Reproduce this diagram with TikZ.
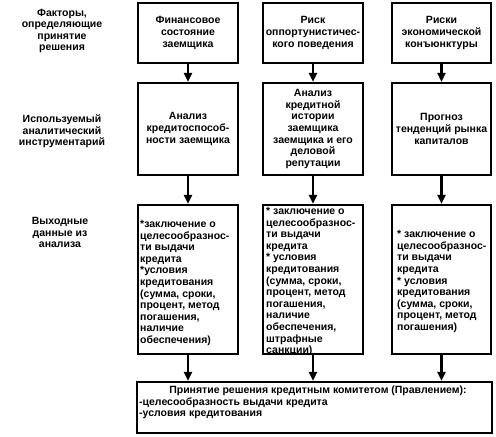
\documentclass[tikz,border=0pt]{standalone}
\usepackage{fontspec}
\setmainfont{Liberation Sans}
\usetikzlibrary{arrows.meta}
\begin{document}
\begin{tikzpicture}[x=1pt,y=-1pt,
  tf/.style={font=\fontsize{10.5}{11.6}\selectfont\bfseries},
  box/.style={draw, line width=2.2pt, minimum width=100pt, inner sep=0pt, align=center, tf},
  txt/.style={inner sep=0pt, tf},
  arr/.style={line width=2.2pt, -{Triangle[width=8pt,length=9pt]}}]
\useasboundingbox[fill=white] (0,0) rectangle (496,437);

% left labels
\node[txt, align=center] (l1) at (62,31) {Факторы,\\определяющие\\принятие\\решения};
\node[txt, align=center] (l2) at (62,131.5) {Используемый\\аналитический\\инструментарий};
\node[txt, align=center] (l3) at (60,232.5) {Выходные\\данные из\\анализа};

% row 1
\node[box, minimum height=60pt] (b11) at (188,33) {Финансовое\\состояние\\заемщика};
\node[box, minimum height=60pt] (b12) at (313,33) {Риск\\оппортунистичес-\\кого поведения};
\node[box, minimum height=60pt, minimum width=99pt] (b13) at (441.5,33) {Риски\\экономической\\конъюнктуры};

% row 2
\node[box, minimum height=92pt] (b21) at (188,129) {Анализ\\кредитоспособ-\\ности заемщика};
\node[box, minimum height=92pt] (b22) at (313,129) {Анализ\\кредитной\\истории\\заемщика\\заемщика и его\\деловой\\репутации};
\node[box, minimum height=92pt, minimum width=99pt] (b23) at (441.5,129) {Прогноз\\тенденций рынка\\капиталов};

% row 3
\node[box, minimum height=149pt] (b31) at (188,279.5) {};
\node[box, minimum height=149pt] (b32) at (313,279.5) {};
\node[box, minimum height=149pt, minimum width=99pt] (b33) at (441.5,279.5) {};

\node[txt, align=left, anchor=north west] (t31) at (140,220) {*заключение о\\целесообразнос-\\ти выдачи\\кредита\\*условия\\кредитования\\(сумма, сроки,\\процент, метод\\погашения,\\наличие\\обеспечения)};
\node[txt, align=left, anchor=north west] (t32) at (266,207) {* заключение о\\целесообразнос-\\ти выдачи\\кредита\\* условия\\кредитования\\(сумма, сроки,\\процент, метод\\погашения,\\наличие\\обеспечения,\\штрафные\\санкции)};
\node[txt, align=left, anchor=west] (t33) at (397,281.5) {* заключение о\\целесообразнос-\\ти выдачи\\кредита\\* условия\\кредитования\\(сумма, сроки,\\процент, метод\\погашения)};

% bottom
\node[box, minimum width=355pt, minimum height=51pt] (bot) at (314.5,407.5) {};
\node[txt] (tb0) at (318,390.5) {Принятие решения кредитным комитетом (Правлением):};
\node[txt, anchor=west] (tb1) at (139,403) {-целесообразность выдачи кредита};
\node[txt, anchor=west] (tb2) at (139,414.5) {-условия кредитования};

% arrows
\draw[arr] (b11) -- (b21);
\draw[arr] (b12) -- (b22);
\draw[arr] (b13) -- (b23);
\draw[arr] (b21) -- (b31);
\draw[arr] (b22) -- (b32);
\draw[arr] (b23) -- (b33);
\draw[arr] (b31.south) -- (b31.south |- bot.north);
\draw[arr] (b32.south) -- (b32.south |- bot.north);
\draw[arr] (b33.south) -- (b33.south |- bot.north);
\end{tikzpicture}
\end{document}
